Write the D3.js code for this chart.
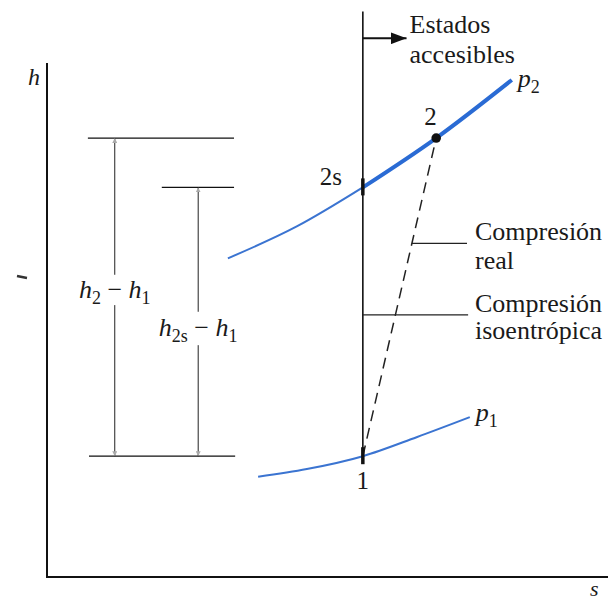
<!DOCTYPE html>
<html>
<head>
<meta charset="utf-8">
<script src="https://cdn.jsdelivr.net/npm/d3@7"></script>
<style>
  body { margin: 0; background: #fff; }
  svg text { font-family: "Liberation Serif", "DejaVu Serif", serif; fill: #1a1a1a; }
  .it { font-style: italic; }
</style>
</head>
<body>
<svg id="chart"></svg>
<script>
// states on the h-s diagram (s, h in arbitrary units)
const states = [
  { id: '1', s: 5.64, h: 2.35 },
  { id: '2s', s: 5.64, h: 7.58 },
  { id: '2', s: 6.95, h: 8.54 }
];

// isobars
const p2Curve = [[3.23, 6.20], [4.46, 6.82], [5.64, 7.58], [6.95, 8.54], [8.30, 9.67]];
const p1Curve = [[3.77, 1.95], [4.64, 2.10], [5.64, 2.35], [6.60, 2.72], [7.55, 3.11]];

// horizontal reference lines for h2, h2s, h1
const levelLines = [
  { h: 8.54, s0: 0.73, s1: 3.34 },
  { h: 7.58, s0: 2.05, s1: 3.34 },
  { h: 2.35, s0: 0.75, s1: 3.36 }
];

// dimension lines: h2 - h1 and h2s - h1
const dims = [
  { s: 1.21, hLow: 2.35, hHigh: 8.54, gapTop: 5.88, gapBottom: 5.29, sub: '2' },
  { s: 2.70, hLow: 2.35, hHigh: 7.58, gapTop: 5.16, gapBottom: 4.51, sub: '2s' }
];

const accessibleTop = 11.0;   // top of the s = s1 line
const arrowH = 10.48, arrowEndS = 6.42;
const realLeader = { h: 6.49, sEnd: 7.50 };
const isoLeader = { h: 5.10, sEnd: 7.52 };

class HsDiagram {
  constructor(_config) {
    this.config = {
      parentElement: _config.parentElement,
      containerWidth: _config.containerWidth || 608,
      containerHeight: _config.containerHeight || 600
    };
    this.initVis();
  }

  initVis() {
    let vis = this;
    vis.svg = d3.select(vis.config.parentElement)
      .attr('width', vis.config.containerWidth)
      .attr('height', vis.config.containerHeight)
      .attr('font-family', '"Liberation Serif", "DejaVu Serif", serif');

    vis.x = d3.scaleLinear().domain([0, 10]).range([47, 607]);
    vis.y = d3.scaleLinear().domain([0, 10]).range([577, 63]);

    let defs = vis.svg.append('defs');
    defs.append('marker')
      .attr('id', 'bigArrow')
      .attr('viewBox', '0 0 16 12')
      .attr('refX', 16).attr('refY', 6)
      .attr('markerWidth', 16).attr('markerHeight', 12)
      .attr('markerUnits', 'userSpaceOnUse')
      .attr('orient', 'auto')
      .append('path').attr('d', 'M0,0 L16,6 L0,12 Z').attr('fill', '#111');
    defs.append('marker')
      .attr('id', 'tinyArrow')
      .attr('viewBox', '0 0 5 5')
      .attr('refX', 5).attr('refY', 2.5)
      .attr('markerWidth', 5).attr('markerHeight', 5)
      .attr('markerUnits', 'userSpaceOnUse')
      .attr('orient', 'auto-start-reverse')
      .append('path').attr('d', 'M0,0 L5,2.5 L0,5 Z').attr('fill', '#aaa');

    vis.render();
  }

  render() {
    let vis = this;
    const x = vis.x, y = vis.y;
    const g = vis.svg.append('g');

    // axes
    g.append('path')
      .attr('d', `M${x(0)},${y(10)} L${x(0)},${y(0)} L${x(10) + 2},${y(0)}`)
      .attr('fill', 'none').attr('stroke', '#111').attr('stroke-width', 2);
    g.append('text').attr('class', 'it').attr('x', 28).attr('y', y(10) + 22)
      .attr('font-size', 24).text('h');
    g.append('text').attr('class', 'it').attr('x', 590).attr('y', 596)
      .attr('font-size', 22).text('s');
    // stray scan mark on the left
    g.append('line').attr('x1', 17).attr('y1', 276).attr('x2', 27).attr('y2', 278)
      .attr('stroke', '#333').attr('stroke-width', 2.5);

    // reference levels
    g.selectAll('.level').data(levelLines).join('line')
      .attr('class', 'level')
      .attr('x1', d => x(d.s0)).attr('x2', d => x(d.s1))
      .attr('y1', d => y(d.h)).attr('y2', d => y(d.h))
      .attr('stroke', '#111').attr('stroke-width', 1.3);

    // dimension lines with a gap for the label
    dims.forEach(d => {
      g.append('line')
        .attr('x1', x(d.s)).attr('x2', x(d.s))
        .attr('y1', y(d.hHigh)).attr('y2', y(d.gapTop))
        .attr('stroke', '#222').attr('stroke-width', 1)
        .attr('marker-start', 'url(#tinyArrow)');
      g.append('line')
        .attr('x1', x(d.s)).attr('x2', x(d.s))
        .attr('y1', y(d.gapBottom)).attr('y2', y(d.hLow))
        .attr('stroke', '#222').attr('stroke-width', 1)
        .attr('marker-end', 'url(#tinyArrow)');
      let t = g.append('text')
        .attr('x', x(d.s)).attr('y', (y(d.gapTop) + y(d.gapBottom)) / 2 + 8)
        .attr('text-anchor', 'middle').attr('font-size', 26);
      t.append('tspan').attr('class', 'it').text('h');
      t.append('tspan').attr('font-size', 18).attr('dy', 6).text(d.sub);
      t.append('tspan').attr('dy', -6).text(' \u2212 ');
      t.append('tspan').attr('class', 'it').text('h');
      t.append('tspan').attr('font-size', 18).attr('dy', 6).text('1');
    });

    // line s = s1 (accessible states to the right)
    const s1 = states[0].s;
    g.append('line')
      .attr('x1', x(s1)).attr('x2', x(s1))
      .attr('y1', y(accessibleTop)).attr('y2', y(states[0].h))
      .attr('stroke', '#111').attr('stroke-width', 1.6);
    g.append('line')
      .attr('x1', x(s1)).attr('x2', x(arrowEndS))
      .attr('y1', y(arrowH)).attr('y2', y(arrowH))
      .attr('stroke', '#111').attr('stroke-width', 2)
      .attr('marker-end', 'url(#bigArrow)');
    g.append('text').attr('x', x(arrowEndS) + 3).attr('y', 33).attr('font-size', 26).text('Estados');
    g.append('text').attr('x', x(arrowEndS) + 3).attr('y', 63).attr('font-size', 26).text('accesibles');

    // isobars
    const line = d3.line().x(d => x(d[0])).y(d => y(d[1])).curve(d3.curveMonotoneX);
    g.append('path').datum(p2Curve.filter(d => d[0] <= s1))
      .attr('d', line).attr('fill', 'none').attr('stroke', '#3b74d1').attr('stroke-width', 2);
    g.append('path').datum(p2Curve.filter(d => d[0] >= s1))
      .attr('d', line).attr('fill', 'none').attr('stroke', '#2a6bd4').attr('stroke-width', 4);
    g.append('path').datum(p1Curve)
      .attr('d', line).attr('fill', 'none').attr('stroke', '#3b74d1').attr('stroke-width', 2);

    const pLabel = (px, py, sub) => {
      let t = g.append('text').attr('x', px).attr('y', py).attr('font-size', 26);
      t.append('tspan').attr('class', 'it').text('p');
      t.append('tspan').attr('font-size', 18).attr('dy', 6).text(sub);
    };
    let p2End = p2Curve[p2Curve.length - 1], p1End = p1Curve[p1Curve.length - 1];
    pLabel(x(p2End[0]) + 6, y(p2End[1]) + 7, '2');
    pLabel(x(p1End[0]) + 6, y(p1End[1]) + 4, '1');

    // actual compression, dashed
    const st1 = states[0], st2 = states[2], st2s = states[1];
    g.append('line')
      .attr('x1', x(st1.s)).attr('y1', y(st1.h))
      .attr('x2', x(st2.s)).attr('y2', y(st2.h))
      .attr('stroke', '#222').attr('stroke-width', 1.5)
      .attr('stroke-dasharray', '11,7');

    // state markers
    [st1, st2s].forEach(d => {
      g.append('line')
        .attr('x1', x(d.s)).attr('x2', x(d.s))
        .attr('y1', y(d.h) - 9).attr('y2', y(d.h) + 8)
        .attr('stroke', '#111').attr('stroke-width', 3.5);
    });
    g.append('circle').attr('cx', x(st2.s)).attr('cy', y(st2.h)).attr('r', 4.8).attr('fill', '#111');

    g.append('text').attr('x', x(st2s.s) - 43).attr('y', y(st2s.h) - 2).attr('font-size', 25).text('2s');
    g.append('text').attr('x', x(st2.s) - 12).attr('y', y(st2.h) - 13).attr('font-size', 25).text('2');
    g.append('text').attr('x', x(st1.s)).attr('y', y(st1.h) + 33)
      .attr('text-anchor', 'middle').attr('font-size', 25).text('1');

    // leaders
    const t = (realLeader.h - st1.h) / (st2.h - st1.h);
    const sOnDash = st1.s + t * (st2.s - st1.s);
    g.append('line')
      .attr('x1', x(sOnDash)).attr('x2', x(realLeader.sEnd))
      .attr('y1', y(realLeader.h)).attr('y2', y(realLeader.h))
      .attr('stroke', '#222').attr('stroke-width', 1.2);
    g.append('line')
      .attr('x1', x(s1)).attr('x2', x(isoLeader.sEnd))
      .attr('y1', y(isoLeader.h)).attr('y2', y(isoLeader.h))
      .attr('stroke', '#222').attr('stroke-width', 1.2);

    const tx = x(realLeader.sEnd) + 8;
    g.append('text').attr('x', tx).attr('y', 240).attr('font-size', 26).text('Compresión');
    g.append('text').attr('x', tx).attr('y', 269).attr('font-size', 26).text('real');
    g.append('text').attr('x', tx).attr('y', 312).attr('font-size', 26).text('Compresión');
    g.append('text').attr('x', tx).attr('y', 339).attr('font-size', 26).text('isoentrópica');
  }
}

new HsDiagram({ parentElement: '#chart' });
</script>
</body>
</html>
